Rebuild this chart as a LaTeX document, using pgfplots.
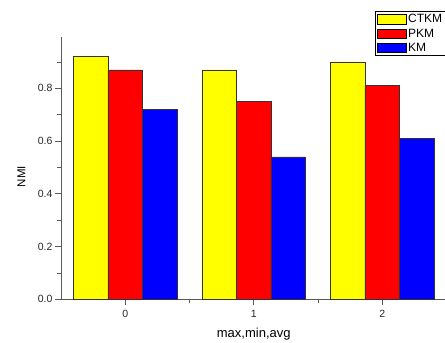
\documentclass[border=0pt]{standalone}
\usepackage{pgfplots}
\pgfplotsset{compat=1.18}
\usepackage{fontspec}
\setmainfont{Liberation Sans}
\begin{document}
\begin{tikzpicture}
\begin{axis}[
  at={(0pt,0pt)}, anchor=south west,
  scale only axis,
  width=385.5pt, height=262.4pt,
  xmin=-0.5, xmax=2.5, ymin=0, ymax=0.995,
  axis lines=left,
  axis line style={draw=black!65, line width=0.8pt, -},
  ybar=0pt, bar width=34.5pt,
  xtick={0,1,2}, xticklabels={0,1,2},
  minor xtick={0.5,1.5},
  ytick={0,0.2,0.4,0.6,0.8},
  minor ytick={0.1,0.3,0.5,0.7,0.9},
  tick align=outside,
  major tick length=6pt, minor tick length=4pt,
  tick style={draw=black!65, line width=0.8pt},
  xtick pos=bottom, ytick pos=left,
  /pgf/number format/assume math mode=true,
  yticklabel style={/pgf/number format/fixed, /pgf/number format/fixed zerofill, /pgf/number format/precision=1, xshift=1pt},
  ticklabel style={font=\fontsize{10.5}{12}\selectfont, text=black!85},
  xticklabel style={yshift=-1pt},
  xlabel={max,min,avg},
  ylabel={NMI},
  xlabel style={font=\fontsize{13}{15}\selectfont, at={(axis description cs:0.5,-0.145)}, anchor=base},
  ylabel style={font=\fontsize{11.5}{13}\selectfont, at={(axis description cs:-0.103,0.468)}, anchor=center},
  legend style={at={(axis description cs:0.8137,1.0985)}, anchor=north west,
    draw=black, line width=0.8pt, fill=white, inner xsep=1.5pt, inner ysep=1pt,
    font=\fontsize{12}{12}\selectfont, row sep=0.5pt,
    cells={anchor=west}},
  legend image code/.code={\draw[#1,draw=black,line width=0.6pt] (0pt,-4.75pt) rectangle (29pt,4.75pt);},
  legend cell align=left,
]
\addplot[fill={rgb,255:red,255;green,255;blue,0}, draw=black!80, line width=0.6pt] coordinates {(0,0.92) (1,0.87) (2,0.90)};
\addplot[fill={rgb,255:red,255;green,0;blue,0}, draw=black!80, line width=0.6pt] coordinates {(0,0.87) (1,0.75) (2,0.81)};
\addplot[fill={rgb,255:red,0;green,0;blue,255}, draw=black!80, line width=0.6pt] coordinates {(0,0.72) (1,0.54) (2,0.61)};
\legend{CTKM,PKM,KM}
\end{axis}
\pgfresetboundingbox
\path[use as bounding box] (-61pt,-43.7pt) rectangle (384pt,299.3pt);
\end{tikzpicture}
\end{document}
